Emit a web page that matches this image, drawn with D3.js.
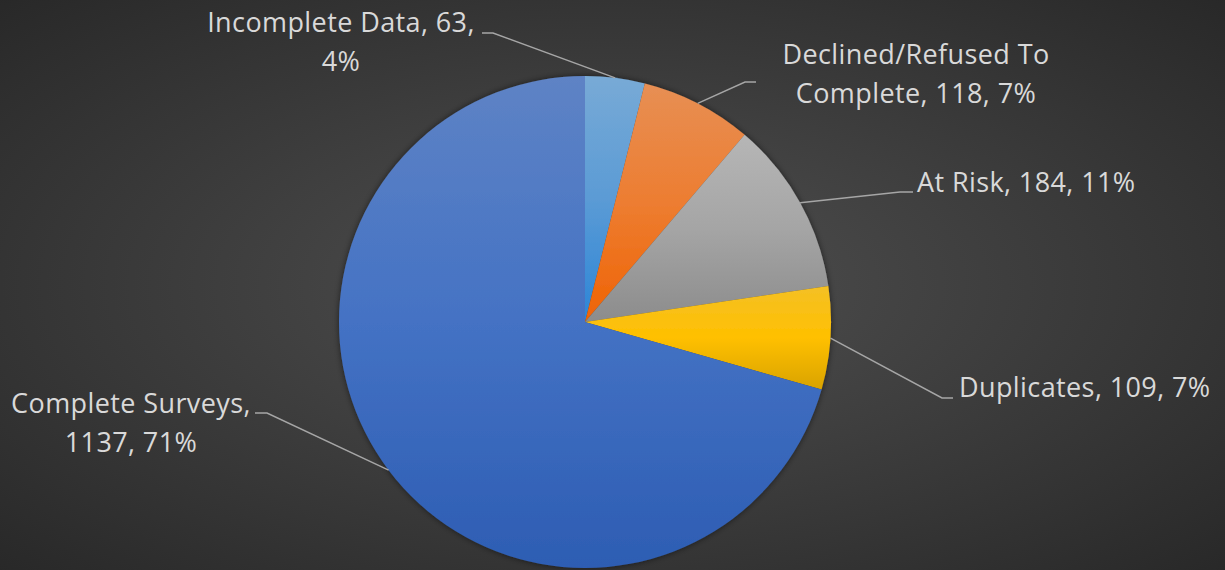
<!DOCTYPE html>
<html>
<head>
<meta charset="utf-8">
<script src="https://cdn.jsdelivr.net/npm/d3@7"></script>
<style>
  html, body { margin: 0; padding: 0; background: #3a3a3a; }
  svg { display: block; }
  text { font-family: "Open Sans", "Noto Sans", sans-serif; fill: #d9d9d9; }
</style>
</head>
<body>
<div id="chart"></div>
<script>
// data
const categories = ['Incomplete Data', 'Declined/Refused To Complete', 'At Risk', 'Duplicates', 'Complete Surveys']
const values = [63, 118, 184, 109, 1137]
const colors = ['#5b9bd5', '#ed7d31', '#a5a5a5', '#ffc000', '#4472c4']

// label layout: text lines are built from data, where to break is layout
const labelLayout = [
    { x: 341, y: 32, anchor: 'middle', breakAfter: 2, elbow: [482, 493, 33] },
    { x: 916, y: 64, anchor: 'middle', breakAfter: 0, elbow: [756, 745, 82] },
    { x: 917, y: 192, anchor: 'start', breakAfter: -1, elbow: [913, 900, 192] },
    { x: 959, y: 397, anchor: 'start', breakAfter: -1, elbow: [953, 942, 398] },
    { x: 131, y: 413, anchor: 'middle', breakAfter: 0, elbow: [255, 267, 413] }
]

const width = 1225, height = 570
const cx = 585, cy = 322, radius = 246
const total = d3.sum(values)

const svg = d3.select('#chart').append('svg')
    .attr('width', width)
    .attr('height', height)

const defs = svg.append('defs')

const bg = defs.append('radialGradient').attr('id', 'bg')
    .attr('cx', '50%').attr('cy', '50%').attr('r', '75%')
bg.append('stop').attr('offset', '0%').attr('stop-color', '#505050')
bg.append('stop').attr('offset', '100%').attr('stop-color', '#262626')

// office style gradient: a bit lighter on top, deeper and more saturated at the bottom
colors.forEach((c, i) => {
    let g = defs.append('linearGradient').attr('id', 'grad' + i)
        .attr('x1', 0).attr('y1', 0).attr('x2', 0).attr('y2', 1)
    let top = d3.hsl(c); top.l = Math.min(1, top.l * 1.1); top.s = top.s * 0.9
    let bot = d3.hsl(c); bot.l = bot.l * 0.85; bot.s = Math.min(1, bot.s * 1.15)
    g.append('stop').attr('offset', '0%').attr('stop-color', top)
    g.append('stop').attr('offset', '50%').attr('stop-color', c)
    g.append('stop').attr('offset', '100%').attr('stop-color', bot)
})

const shadow = defs.append('filter').attr('id', 'shadow')
    .attr('x', '-10%').attr('y', '-10%').attr('width', '120%').attr('height', '120%')
shadow.append('feDropShadow')
    .attr('dx', 0).attr('dy', 0).attr('stdDeviation', 3)
    .attr('flood-color', '#000').attr('flood-opacity', 0.55)

svg.append('rect').attr('width', width).attr('height', height).attr('fill', 'url(#bg)')

const pie = d3.pie().sort(null).value(d => d)
const arcs = pie(values)
const arc = d3.arc().innerRadius(0).outerRadius(radius)

const g = svg.append('g').attr('transform', `translate(${cx},${cy})`)

g.append('g').attr('filter', 'url(#shadow)')
    .selectAll('path')
    .data(arcs)
    .enter()
    .append('path')
    .attr('d', arc)
    .attr('fill', (d, i) => `url(#grad${i})`)

// leader lines
arcs.forEach((d, i) => {
    let a = (d.startAngle + d.endAngle) / 2
    let px = cx + radius * Math.sin(a)
    let py = cy - radius * Math.cos(a)
    let e = labelLayout[i].elbow
    svg.append('polyline')
        .attr('points', `${e[0]},${e[2]} ${e[1]},${e[2]} ${px},${py}`)
        .attr('fill', 'none')
        .attr('stroke', '#a6a6a6')
        .attr('stroke-width', 1.5)
})

// labels
arcs.forEach((d, i) => {
    let lay = labelLayout[i]
    let pct = Math.round(values[i] / total * 100) + '%'
    let words = categories[i].split(' ')
    let lines
    if (lay.breakAfter == -1) {
        lines = [categories[i] + ', ' + values[i] + ', ' + pct]
    } else if (lay.breakAfter == 0) {
        // long name wraps inside itself, short name wraps after it
        if (words.length > 2) {
            lines = [words.slice(0, 2).join(' '), words.slice(2).join(' ') + ', ' + values[i] + ', ' + pct]
        } else {
            lines = [categories[i] + ',', values[i] + ', ' + pct]
        }
    } else {
        lines = [categories[i] + ', ' + values[i] + ',', pct]
    }
    let t = svg.append('text')
        .attr('x', lay.x)
        .attr('y', lay.y)
        .attr('text-anchor', lay.anchor)
        .style('font-size', '27px')
        .style('letter-spacing', '0.4px')
    lines.forEach((ln, j) => {
        t.append('tspan')
            .attr('x', lay.x)
            .attr('y', lay.y + j * 39)
            .text(ln)
    })
})
</script>
</body>
</html>
